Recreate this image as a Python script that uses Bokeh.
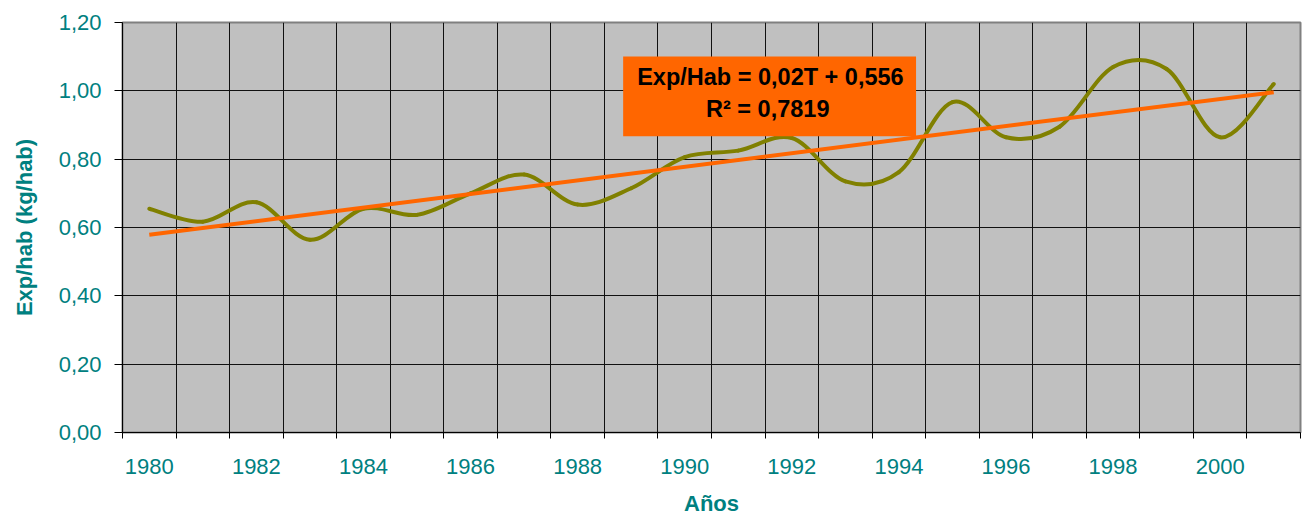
import numpy as np
from bokeh.plotting import figure
from bokeh.models import (Range1d, FixedTicker, CustomJSTickFormatter, BoxAnnotation, Label)
from bokeh.embed import file_html
from bokeh.resources import INLINE

# ---- data ----
years = [1980, 1981, 1982, 1983, 1984, 1985, 1986, 1987, 1988, 1989, 1990,
         1991, 1992, 1993, 1994, 1995, 1996, 1997, 1998, 1999, 2000, 2001]
exp_hab = [0.655, 0.617, 0.674, 0.564, 0.655, 0.637, 0.700, 0.755, 0.667, 0.715, 0.806,
           0.825, 0.862, 0.735, 0.762, 0.967, 0.864, 0.895, 1.070, 1.064, 0.864, 1.020]
trend_years = [1980, 2001]
trend_vals = [0.579, 0.996]
x_label_years = [1980, 1982, 1984, 1986, 1988, 1990, 1992, 1994, 1996, 1998, 2000]
y_ticks = [0.0, 0.2, 0.4, 0.6, 0.8, 1.0, 1.2]
eq_text = "Exp/Hab = 0,02T + 0,556"
r2_text = "R\u00b2 = 0,7819"

TEAL = "#008080"
FONT = "Liberation Sans"

p = figure(width=1302, height=518, output_backend="svg", toolbar_location=None,
           x_range=Range1d(1979.5, 2001.5), y_range=Range1d(0, 1.2),
           min_border_left=122, min_border_top=22, min_border_bottom=86, min_border_right=2)
p.background_fill_color = "#C0C0C0"
p.border_fill_color = "white"
p.outline_line_color = "#808080"
p.outline_line_width = 2

# category boundaries
bounds = [y - 0.5 for y in years] + [years[-1] + 0.5]

# x axis
xa = p.xaxis[0]
xa.ticker = FixedTicker(ticks=x_label_years, minor_ticks=bounds)
xa.major_tick_line_color = None
xa.major_tick_out = 0
xa.major_tick_in = 0
xa.minor_tick_line_color = "black"
xa.minor_tick_out = 6
xa.minor_tick_in = 0
xa.axis_line_color = "black"
xa.major_label_text_color = TEAL
xa.major_label_text_font = FONT
xa.major_label_text_font_size = "22px"
xa.major_label_standoff = 20
xa.axis_label = "Años"
xa.axis_label_text_font = FONT
xa.axis_label_text_font_style = "bold"
xa.axis_label_text_font_size = "22px"
xa.axis_label_text_color = TEAL
xa.axis_label_standoff = 14

# y axis
ya = p.yaxis[0]
ya.ticker = FixedTicker(ticks=y_ticks)
ya.formatter = CustomJSTickFormatter(code="return tick.toFixed(2).replace('.', ',');")
ya.major_tick_line_color = "black"
ya.major_tick_out = 8
ya.major_tick_in = 0
ya.minor_tick_line_color = None
ya.axis_line_color = "black"
ya.major_label_text_color = TEAL
ya.major_label_text_font = FONT
ya.major_label_text_font_size = "22px"
ya.major_label_standoff = 13
ya.axis_label = "Exp/hab (kg/hab)"
ya.axis_label_text_font = FONT
ya.axis_label_text_font_style = "bold"
ya.axis_label_text_font_size = "22px"
ya.axis_label_text_color = TEAL
ya.axis_label_standoff = 19

# grids
p.xgrid.ticker = FixedTicker(ticks=bounds)
p.ygrid.ticker = FixedTicker(ticks=y_ticks)
p.xgrid.grid_line_color = "#111111"
p.ygrid.grid_line_color = "#111111"
p.xgrid.grid_line_width = 1
p.ygrid.grid_line_width = 1

# smoothed series (Catmull-Rom style Bezier segments through the data points)
x = np.array(years, dtype=float)
y = np.array(exp_hab, dtype=float)
n = len(x)
xp = np.concatenate([[x[0]], x, [x[-1]]])
yp = np.concatenate([[y[0]], y, [y[-1]]])
cx0 = xp[1:n] + (xp[2:n + 1] - xp[0:n - 1]) / 6
cy0 = yp[1:n] + (yp[2:n + 1] - yp[0:n - 1]) / 6
cx1 = xp[2:n + 1] - (xp[3:n + 2] - xp[1:n]) / 6
cy1 = yp[2:n + 1] - (yp[3:n + 2] - yp[1:n]) / 6
p.bezier(x0=x[:-1], y0=y[:-1], x1=x[1:], y1=y[1:], cx0=cx0, cy0=cy0, cx1=cx1, cy1=cy1,
         line_color="#808000", line_width=4, line_cap="round")

# linear trend
p.line(trend_years, trend_vals, line_color="#FF6600", line_width=4)

# equation box
box = BoxAnnotation(left=1988.85, right=1994.32, bottom=0.867, top=1.1005,
                    fill_color="#FF6600", fill_alpha=1.0, line_color=None)
p.add_layout(box)
p.add_layout(Label(x=1991.6, y=1.040, text=eq_text, text_align="center", text_baseline="middle",
                   text_font=FONT, text_font_style="bold", text_font_size="23.5px", text_color="black"))
p.add_layout(Label(x=1991.55, y=0.948, text=r2_text, text_align="center", text_baseline="middle",
                   text_font=FONT, text_font_style="bold", text_font_size="23.5px", text_color="black"))

open("out.html", "w").write(file_html(p, INLINE))
